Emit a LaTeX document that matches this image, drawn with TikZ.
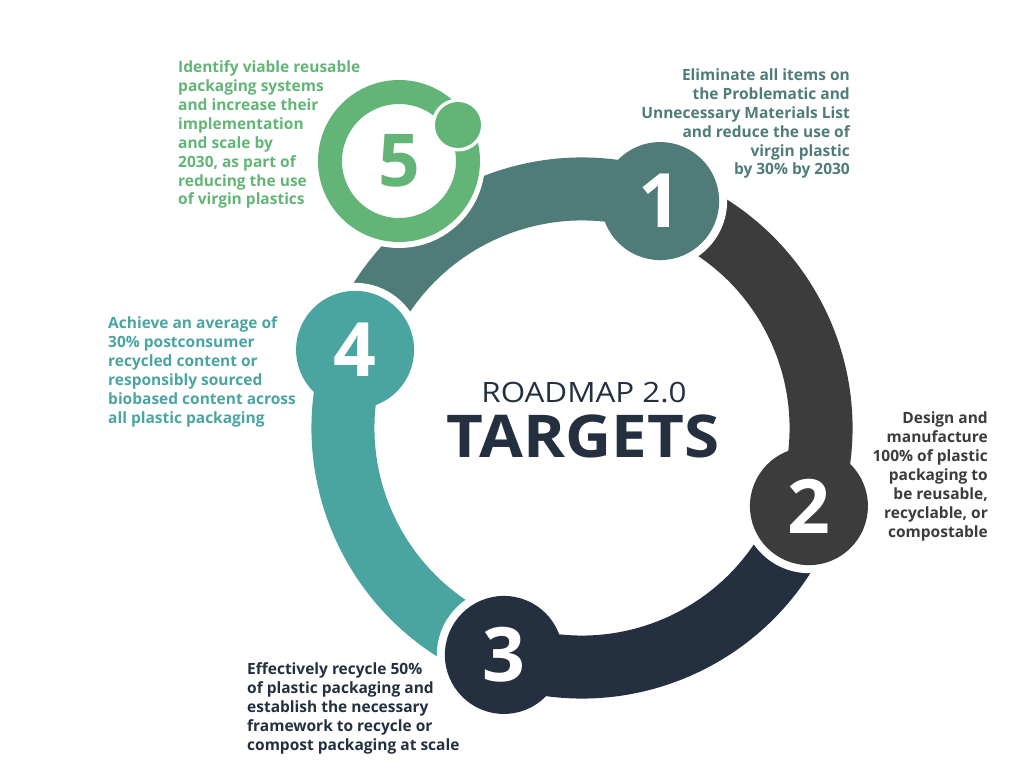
\documentclass[tikz,border=0pt]{standalone}
\usepackage{fontspec}
\setmainfont{Open Sans}
\definecolor{cone}{HTML}{4F7B78}
\definecolor{ctwo}{HTML}{3C3C3C}
\definecolor{cthree}{HTML}{24303F}
\definecolor{cfour}{HTML}{4AA5A1}
\definecolor{cfive}{HTML}{62B577}
\tikzset{
  band/.style={line width=63pt, line cap=butt},
  numcircle/.style={circle, inner sep=0pt, minimum size=118pt, text=white,
    font=\fontsize{75}{75}\selectfont\bfseries},
  label/.style={inner sep=0pt, font=\fontsize{15.5}{18.9}\selectfont\bfseries},
}
\begin{document}
\begin{tikzpicture}[x=1pt,y=-1pt]
\useasboundingbox[fill=white] (0,0) rectangle (1024,783);
\coordinate (O) at (582,428);
% circle centres on the ring
\coordinate (p1) at ([shift={(-71:240)}]O);
\coordinate (p2) at ([shift={(19:240)}]O);
\coordinate (p3) at ([shift={(109:240)}]O);
\coordinate (p4) at ([shift={(199:240)}]O);
% bands
\draw[band, ctwo]   ([shift={(-71:239)}]O) arc[start angle=-71, end angle=19, radius=239];
\draw[band, cthree] ([shift={(19:239)}]O) arc[start angle=19, end angle=109, radius=239];
\draw[band, cfour]  ([shift={(109:239)}]O) arc[start angle=109, end angle=199, radius=239];
\draw[band, cone]   ([shift={(199:239)}]O) arc[start angle=199, end angle=289, radius=239];
% white cuts at band starts
\foreach \p/\a in {p1/-71, p2/19, p3/109, p4/199}{
  \begin{scope}
    \clip (O) -- ([shift={(\a:700)}]O) -- ([shift={(\a+45:700)}]O) -- ([shift={(\a+90:700)}]O) -- cycle;
    \fill[white] (\p) circle (67);
  \end{scope}
}
% numbered circles
\node[numcircle, fill=cone]   (n1) at (p1) {1};
\node[numcircle, fill=ctwo]   (n2) at (p2) {2};
\node[numcircle, fill=cthree] (n3) at (p3) {3};
\node[numcircle, fill=cfour]  (n4) at (p4) {4};
% circle 5
\coordinate (p5) at (399,162);
\fill[white] (p5) circle (86);
\node[circle, inner sep=0pt, minimum size=138pt, fill=white, draw=cfive, line width=24pt,
  text=cfive, font=\fontsize{73}{73}\selectfont\bfseries] (n5) at (399,161) {5};
\coordinate (d5) at (458,125);
\fill[white] (d5) circle (26.5);
\node[circle, inner sep=0pt, minimum size=46pt, fill=cfive] (dot5) at (d5) {};
% centre title
\node[inner sep=0pt, anchor=base, text=cthree, font=\fontsize{28}{28}\selectfont] (t1) at (584,402) {\scalebox{1.12}[1]{ROADMAP 2.0}};
\node[inner sep=0pt, anchor=base, text=cthree, font=\fontsize{59}{59}\selectfont\bfseries] (t2) at (583,457) {\scalebox{1.08}[1]{TARGETS}};
% labels (base anchor = last line's baseline)
\node[label, text=cone, align=right, anchor=base east] (l1) at (850,175)
  {Eliminate all items on\\the Problematic and\\Unnecessary Materials List\\and reduce the use of\\virgin plastic\\by 30\% by 2030};
\node[label, text=ctwo, align=right, anchor=base east] (l2) at (988,537)
  {Design and\\manufacture\\100\% of plastic\\packaging to\\be reusable,\\recyclable, or\\compostable};
\node[label, text=cthree, align=left, anchor=base west] (l3) at (247,750)
  {Effectively recycle 50\%\\of plastic packaging and\\establish the necessary\\framework to recycle or\\compost packaging at scale};
\node[label, text=cfour, align=left, anchor=base west] (l4) at (108,423)
  {Achieve an average of\\30\% postconsumer\\recycled content or\\responsibly sourced\\biobased content across\\all plastic packaging};
\node[label, text=cfive, align=left, anchor=base west] (l5) at (178,205)
  {Identify viable reusable\\packaging systems\\and increase their\\implementation\\and scale by\\2030, as part of\\reducing the use\\of virgin plastics};
\end{tikzpicture}
\end{document}
